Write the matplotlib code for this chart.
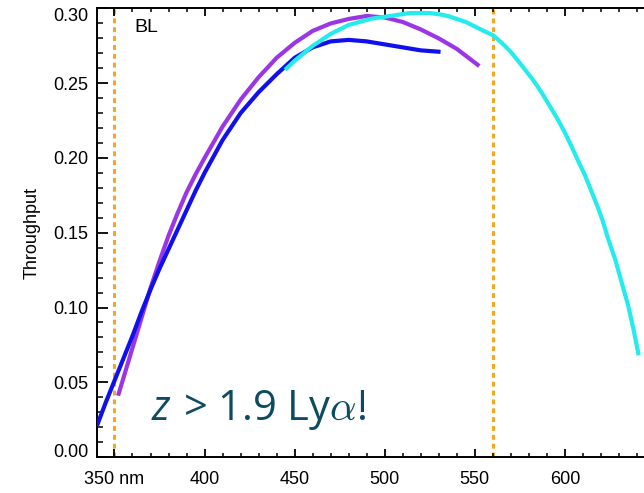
import matplotlib
matplotlib.use('Agg')
import matplotlib.pyplot as plt
from matplotlib.ticker import MultipleLocator, FixedLocator

plt.rcParams['font.family'] = ['Liberation Sans', 'DejaVu Sans']

# throughput curves (wavelength nm, throughput)
blue_nm = [340.3, 345, 350, 355, 360, 365, 370, 375, 380, 385, 390, 395, 400, 410, 420, 430,
           440, 450, 460, 470, 480, 490, 500, 510, 520, 531]
blue_t = [0.021, 0.036, 0.051, 0.066, 0.081, 0.097, 0.112, 0.126, 0.139, 0.152, 0.165, 0.178,
          0.190, 0.212, 0.230, 0.244, 0.256, 0.267, 0.274, 0.278, 0.279, 0.278, 0.276, 0.274,
          0.272, 0.271]

purple_nm = [352, 355, 360, 365, 370, 375, 380, 385, 390, 395, 400, 410, 420, 430, 440, 450,
             460, 470, 480, 490, 500, 510, 520, 530, 540, 552.5]
purple_t = [0.041, 0.053, 0.073, 0.093, 0.113, 0.131, 0.148, 0.163, 0.177, 0.189, 0.200, 0.221,
            0.239, 0.254, 0.267, 0.277, 0.285, 0.290, 0.293, 0.295, 0.294, 0.291, 0.286, 0.280,
            0.273, 0.2615]

cyan_nm = [444.7, 450, 455, 460, 465, 470, 475, 480, 486, 492, 497, 503, 508.6, 514, 519.7,
           525, 530.8, 535, 540, 545, 550, 555, 560.3, 565, 570, 576, 582.5, 587, 591, 596,
           600, 604, 607, 611, 614, 618, 621, 624, 628, 631, 635, 638, 641]
cyan_t = [0.259, 0.265, 0.270, 0.275, 0.279, 0.283, 0.286, 0.289, 0.291, 0.293, 0.294, 0.295,
          0.296, 0.297, 0.297, 0.297, 0.296, 0.295, 0.293, 0.291, 0.288, 0.285, 0.282, 0.277,
          0.271, 0.262, 0.252, 0.244, 0.236, 0.226, 0.217, 0.207, 0.199, 0.189, 0.180, 0.168,
          0.158, 0.146, 0.132, 0.119, 0.102, 0.086, 0.068]

band_edges = [350, 560]
x_ticks = [350, 400, 450, 500, 550, 600, 650]
x_labels = ['350 nm', '400', '450', '500', '550', '600', '']
y_ticks = [0.00, 0.05, 0.10, 0.15, 0.20, 0.25, 0.30]

fig = plt.figure(figsize=(6.44, 4.93), dpi=100)
ax = fig.add_axes([97 / 644, 36 / 493, 648 / 644, 448.5 / 493])

for x in band_edges:
    ax.axvline(x, color='#f5a623', lw=2.2, linestyle=(0, (1.6, 1.3)), zorder=1)

ax.plot(blue_nm, blue_t, color='#1010ee', lw=3.0, solid_capstyle='butt',
        solid_joinstyle='round', zorder=3)
ax.plot(purple_nm, purple_t, color='#9b35e6', lw=3.0, solid_capstyle='butt',
        solid_joinstyle='round', zorder=2)
ax.plot(cyan_nm, cyan_t, color='#24ecec', lw=3.0, solid_capstyle='butt',
        solid_joinstyle='round', zorder=4)

ax.set_xlim(340.3, 700)
ax.set_ylim(0, 0.30)

ax.xaxis.set_major_locator(FixedLocator(x_ticks))
ax.set_xticklabels(x_labels)
ax.xaxis.set_minor_locator(MultipleLocator(10))
ax.yaxis.set_major_locator(FixedLocator(y_ticks))
ax.set_yticklabels(['%.2f' % v for v in y_ticks])
ax.yaxis.set_minor_locator(MultipleLocator(0.01))

ax.tick_params(axis='both', which='both', direction='in', top=True, right=True,
               color='black', labelsize=13)
ax.tick_params(axis='x', which='major', length=6, width=1.3, pad=10)
ax.tick_params(axis='x', which='minor', length=3, width=1.1)
ax.tick_params(axis='y', which='major', length=8, width=1.3, pad=6)
ax.tick_params(axis='y', which='minor', length=4, width=1.1)
for s in ax.spines.values():
    s.set_linewidth(1.4)

# IDL-style: end labels pulled inside the axis range
ylabs = ax.get_yticklabels()
ylabs[0].set_va('baseline')
ylabs[-1].set_va('top')

ax.set_ylabel('Throughput', fontsize=13, labelpad=9)

ax.text(0.057, 0.957, 'BL', transform=ax.transAxes, fontsize=14, ha='left', va='center')

# overlay note: sans italic z, CM-style alpha
note_col = '#0d4b63'
fig.text(152 / 644, 1 - 420 / 493, 'z', fontsize=30, color=note_col, ha='left',
         va='baseline', style='italic', family='Open Sans')
fig.text(183 / 644, 1 - 420 / 493, r'> 1.9 Ly$\alpha$!', fontsize=30, color=note_col,
         ha='left', va='baseline', family='Open Sans', math_fontfamily='cm')

fig.savefig('out.png', dpi=100)
